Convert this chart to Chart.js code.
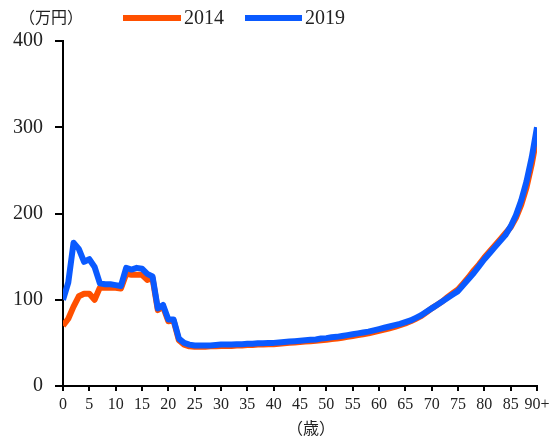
<!DOCTYPE html>
<html>
<head>
<meta charset="utf-8">
<script src="https://cdn.jsdelivr.net/npm/chart.js@4/dist/chart.umd.min.js"></script>
<style>
html,body{margin:0;padding:0;background:#fff;}
#wrap{width:550px;height:444px;position:relative;}
</style>
</head>
<body>
<div id="wrap"><canvas id="c" width="550" height="444"></canvas></div>
<script>
const ages = Array.from({length: 91}, (_, i) => i);
const seriesNames = ['2014', '2019'];
const seriesColors = ['#FF5000', '#0A5AFF'];
const yUnit = '（万円）';
const xUnit = '（歳）';
const yTicks = [0, 100, 200, 300, 400];

const values2014 = [
  70, 78, 92, 104, 107, 107, 100, 114, 114, 114,
  114, 113, 130, 129, 129, 129, 123, 125, 88, 92,
  75, 76, 53, 48, 46, 45.5, 45.5, 45.5, 46, 46,
  46.5, 46.5, 46.5, 47, 47, 47.5, 47.5, 48, 48, 48.5,
  48.5, 49, 49.5, 50, 50.5, 51, 51.5, 52, 52.5, 53,
  53.5, 54.5, 55, 56, 57, 58, 59, 60, 61, 62.5,
  64, 65.5, 67, 68.5, 70.5, 72.5, 75, 78, 81, 85.5,
  90, 94, 98, 103, 107.5, 112, 119, 126, 134, 141,
  149, 156, 163, 170, 177, 184, 195, 210, 230, 257,
  290
];
const values2019 = [
  100, 120, 166, 159, 144, 147, 138, 119, 118, 118,
  117, 116, 137, 135, 137, 136, 130, 127, 90, 94,
  77, 77, 55, 50, 48, 47, 47, 47, 47, 47.5,
  48, 48, 48, 48.5, 48.5, 49, 49, 49.5, 49.5, 50,
  50, 50.5, 51, 51.5, 52, 52.5, 53, 53.5, 54, 55,
  55.5, 56.5, 57, 58, 59, 60, 61, 62, 63, 64.5,
  66, 67.5, 69, 70.5, 72, 74, 76, 79, 82, 86,
  90, 94, 98, 102, 106, 110, 117, 124, 131, 139,
  147, 154, 161, 168, 175, 185, 198, 215, 237, 265,
  300
];

const serif = "'Liberation Serif', 'Noto Sans CJK JP', serif";
const cjk = "'Noto Sans CJK JP', 'Liberation Serif', sans-serif";

const toPoints = (vals) => ages.map((a, i) => ({x: a, y: vals[i]}));

const extras = {
  id: 'extras',
  afterDraw(chart) {
    const ctx = chart.ctx;
    ctx.save();
    ctx.fillStyle = '#222';
    ctx.font = '16px ' + cjk;
    ctx.textAlign = 'center';
    ctx.textBaseline = 'middle';
    ctx.fillText(yUnit, 51, 17);
    ctx.fillText(xUnit, 311, 428);
    const items = [
      {x0: 123, x1: 181, tx: 184},
      {x0: 245, x1: 302, tx: 305}
    ];
    chart.data.datasets.forEach((ds, i) => {
      const it = items[i];
      ctx.strokeStyle = ds.borderColor;
      ctx.lineWidth = 6;
      ctx.lineCap = 'butt';
      ctx.beginPath();
      ctx.moveTo(it.x0, 18);
      ctx.lineTo(it.x1, 18);
      ctx.stroke();
      ctx.fillStyle = '#222';
      ctx.font = '20px ' + serif;
      ctx.textAlign = 'left';
      ctx.textBaseline = 'middle';
      ctx.fillText(ds.label, it.tx, 19);
    });
    ctx.restore();
  }
};

new Chart(document.getElementById('c'), {
  type: 'line',
  data: {
    datasets: [
      {label: seriesNames[0], data: toPoints(values2014), borderColor: seriesColors[0], backgroundColor: seriesColors[0], borderWidth: 6, pointRadius: 0, tension: 0, order: 1, borderJoinStyle: 'round'},
      {label: seriesNames[1], data: toPoints(values2019), borderColor: seriesColors[1], backgroundColor: seriesColors[1], borderWidth: 6, pointRadius: 0, tension: 0, order: 0, borderJoinStyle: 'round'}
    ]
  },
  options: {
    responsive: false,
    animation: false,
    devicePixelRatio: 1,
    layout: {autoPadding: false, padding: {top: 41, right: 13, left: 0, bottom: 0}},
    plugins: {legend: {display: false}, tooltip: {enabled: false}},
    scales: {
      x: {
        type: 'linear', min: 0, max: 90,
        afterFit(s) { s.height = 58; s.paddingLeft = 0; s.paddingRight = 0; },
        afterBuildTicks(s) { s.ticks = ages.filter(a => a % 5 === 0).map(v => ({value: v})); },
        ticks: {
          stepSize: 5, padding: 4, color: '#222',
          font: {family: serif, size: 16},
          maxRotation: 0, autoSkip: false,
          callback: (v) => v === 90 ? '90+' : String(v)
        },
        grid: {display: true, drawOnChartArea: false, drawTicks: true, tickLength: 5, color: '#000', lineWidth: 2},
        border: {display: true, color: '#000', width: 2}
      },
      y: {
        min: 0, max: 400,
        afterFit(s) { s.width = 63; s.paddingTop = 0; s.paddingBottom = 0; },
        afterBuildTicks(s) { s.ticks = yTicks.map(v => ({value: v})); },
        ticks: {padding: 12, color: '#222', font: {family: serif, size: 20}},
        grid: {display: true, drawOnChartArea: false, drawTicks: true, tickLength: 8, color: '#000', lineWidth: 2},
        border: {display: true, color: '#000', width: 2}
      }
    }
  },
  plugins: [extras]
});
</script>
</body>
</html>
